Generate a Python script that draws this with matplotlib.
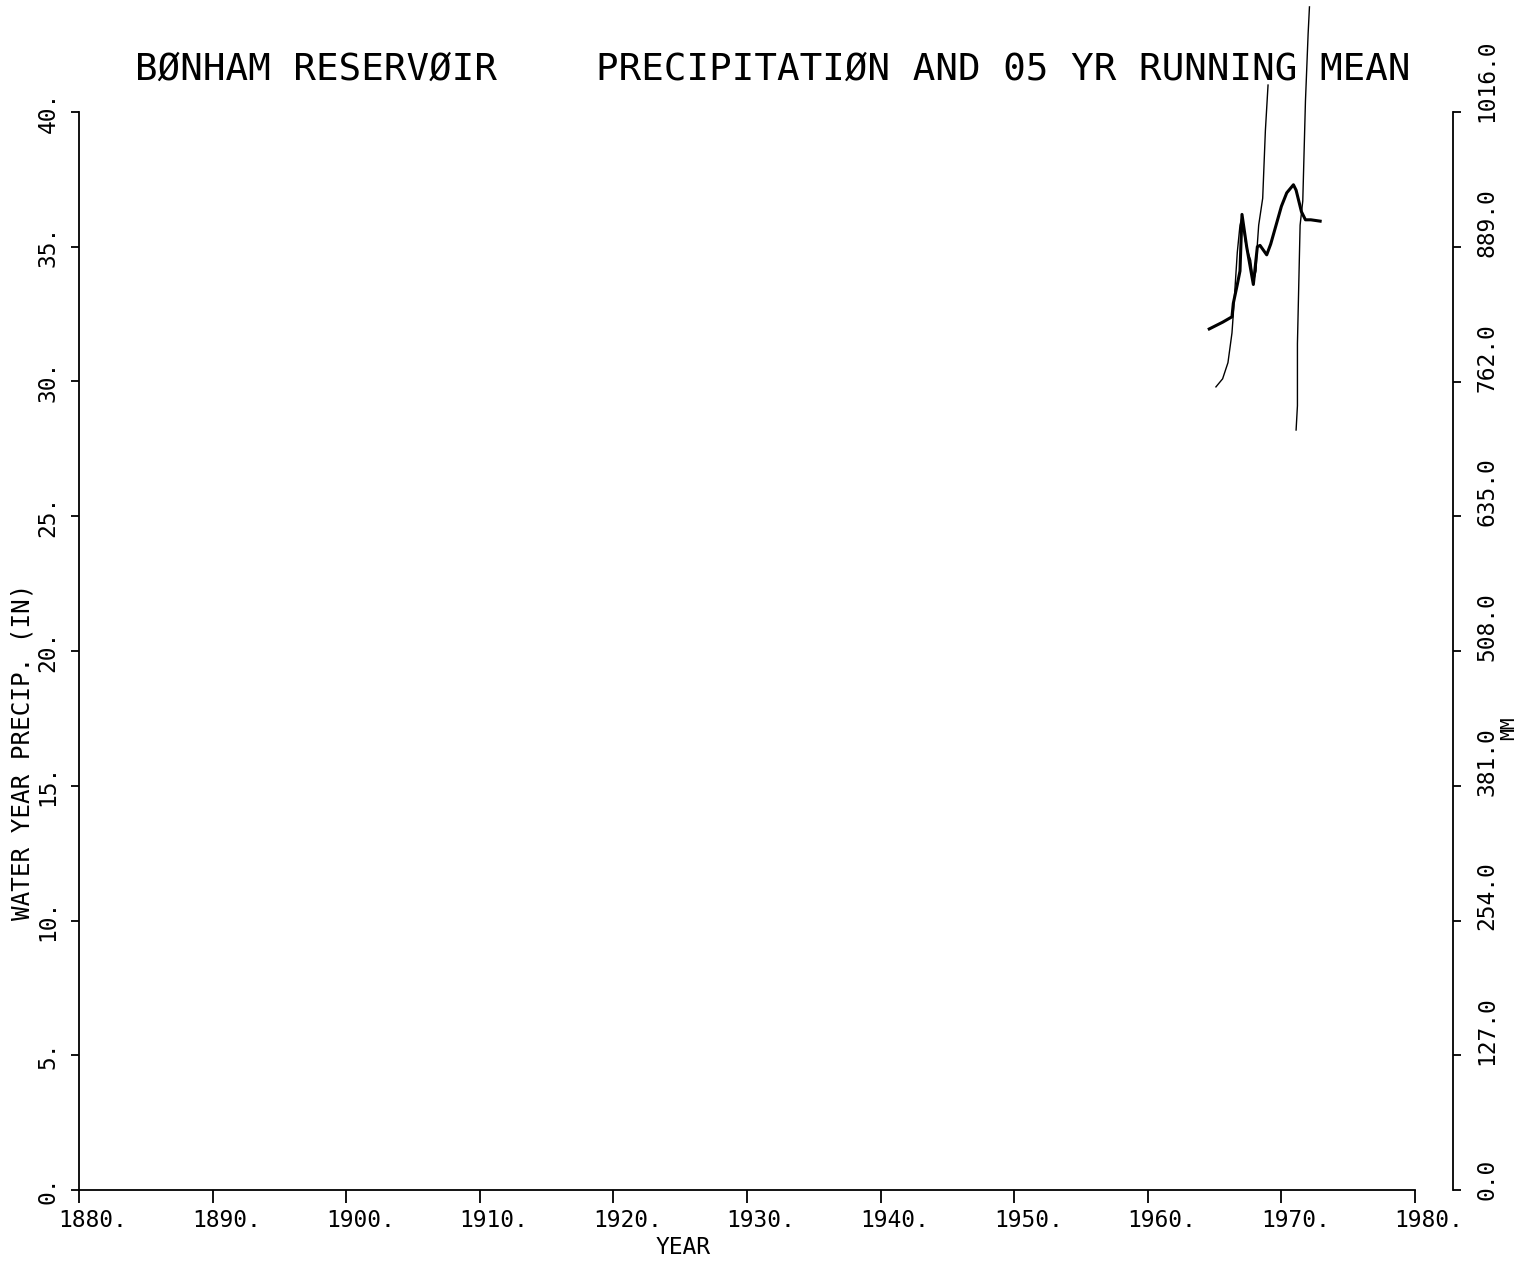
import numpy as np
import matplotlib.pyplot as plt
from matplotlib import transforms

# water-year precipitation (inches), traced along the pen path; NaN = pen lift
precip_year = [1965.1, 1965.6, 1966.0, 1966.3, 1966.4, 1966.7, 1966.9, 1967.05,
               1967.3, 1967.5, 1967.7, 1967.9, 1968.1, 1968.2, 1968.3, 1968.6,
               1968.8, 1969.0, np.nan,
               1971.1, 1971.2, 1971.2, 1971.3, 1971.4, 1971.6, 1971.8, 1972.0, 1972.1]
precip_in = [29.8, 30.1, 30.7, 31.8, 32.5, 34.8, 35.8, 36.1,
             35.2, 34.8, 34.5, 33.7, 34.1, 35.1, 35.8, 36.8,
             39.3, 41.0, np.nan,
             28.2, 29.1, 31.4, 33.6, 35.8, 36.7, 40.4, 42.9, 43.9]

# 5 yr running mean (inches)
mean_year = [1964.6, 1965.2, 1965.6, 1966.3, 1966.4, 1966.7, 1966.9, 1967.05,
             1967.4, 1967.9, 1968.2, 1968.4, 1968.9, 1969.2, 1969.6, 1970.0,
             1970.4, 1970.9, 1971.1, 1971.5, 1971.8, 1972.2, 1972.9]
mean_in = [31.95, 32.1, 32.2, 32.4, 32.9, 33.6, 34.1, 36.2,
           35.0, 33.6, 35.0, 35.05, 34.7, 35.1, 35.8, 36.5,
           37.0, 37.3, 37.1, 36.3, 36.0, 36.0, 35.95]

year_ticks = list(range(1880, 1981, 10))
year_labels = [f'{y}.' for y in year_ticks]
in_ticks = list(range(0, 41, 5))
in_labels = [f'{v}.' for v in in_ticks]
mm_ticks = [v * 25.4 for v in in_ticks]
mm_labels = [f'{v:.1f}' for v in mm_ticks]

FONT = 'DejaVu Sans Mono'
plt.rcParams['font.family'] = [FONT]

fig = plt.figure(figsize=(15.21, 12.65), dpi=100)
ax = fig.add_axes([79 / 1521, 75 / 1265, (1415 - 79) / 1521, (1188 - 110) / 1265])

ax.plot(precip_year, precip_in, color='black', lw=1.0, clip_on=False)
ax.plot(mean_year, mean_in, color='black', lw=2.2, clip_on=False)

ax.set_xlim(1880, 1980)
ax.set_ylim(0, 40)
for side in ('top', 'right'):
    ax.spines[side].set_visible(False)
ax.spines['left'].set_linewidth(1.3)
ax.spines['bottom'].set_linewidth(1.3)

ax.set_xticks(year_ticks)
ax.set_xticklabels(year_labels, fontsize=16.5)
ax.tick_params(axis='x', direction='out', length=9, width=1.3, pad=5)
shift = transforms.ScaledTranslation(14 / 100, 0, fig.dpi_scale_trans)
for lbl in ax.get_xticklabels():
    lbl.set_transform(lbl.get_transform() + shift)

ax.set_yticks(in_ticks)
ax.set_yticklabels(in_labels, fontsize=16.5, rotation=90, va='center')
ax.tick_params(axis='y', direction='out', length=6, width=1.3, pad=8)

ax2 = ax.twinx()
ax2.set_ylim(0, 1016)
for side in ('top', 'left', 'bottom'):
    ax2.spines[side].set_visible(False)
ax2.spines['right'].set_position(('outward', 27.4))
ax2.spines['right'].set_linewidth(1.3)
ax2.set_yticks(mm_ticks)
ax2.set_yticklabels(mm_labels, fontsize=16.5, rotation=90, va='bottom')
ax2.tick_params(axis='y', direction='out', length=6, width=1.3, pad=10)
down = transforms.ScaledTranslation(0, -10 / 100, fig.dpi_scale_trans)
for lbl in ax2.get_yticklabels():
    lbl.set_transform(lbl.get_transform() + down)

# axis titles
fig.text(23 / 1521, 1 - 752 / 1265, 'WATER YEAR PRECIP. (IN)', rotation=90,
         ha='center', va='center', fontsize=17.5)
fig.text(683 / 1521, 1 - 1248 / 1265, 'YEAR', ha='center', va='center', fontsize=16.5)
fig.text(1509 / 1521, 1 - 728 / 1265, 'MM', rotation=90, ha='center', va='center',
         fontsize=14)

# plot title
fig.text(135 / 1521, 1 - 80 / 1265, 'BØNHAM RESERVØIR', ha='left', va='baseline',
         fontsize=27)
fig.text(1410 / 1521, 1 - 80 / 1265, 'PRECIPITATIØN AND 05 YR RUNNING MEAN',
         ha='right', va='baseline', fontsize=27)

fig.savefig('out.png', dpi=100)
